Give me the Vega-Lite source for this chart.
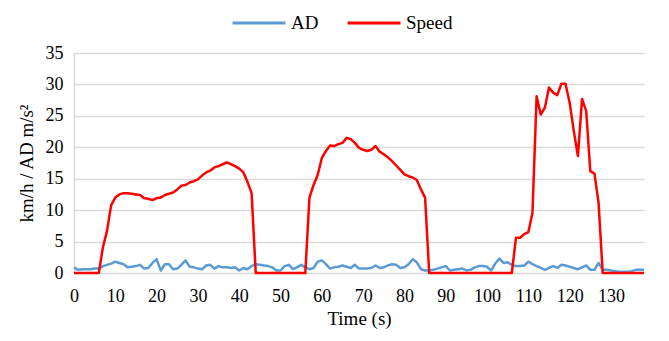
{
  "$schema": "https://vega.github.io/schema/vega-lite/v6.json",
  "width": 570,
  "height": 220,
  "autosize": "none",
  "padding": {"left": 74, "top": 53, "right": 25, "bottom": 68},
  "background": "white",
  "config": {
    "font": "Liberation Serif",
    "view": {"stroke": null}
  },
  "data": {
    "values": [
      {"t":0,"AD":0.9,"Speed":0},{"t":1,"AD":0.5,"Speed":0},{"t":2,"AD":0.6,"Speed":0},{"t":3,"AD":0.6,"Speed":0},{"t":4,"AD":0.6,"Speed":0},{"t":5,"AD":0.7,"Speed":0},{"t":6,"AD":0.7,"Speed":0},{"t":7,"AD":1.1,"Speed":4.1},{"t":8,"AD":1.3,"Speed":6.7},{"t":9,"AD":1.5,"Speed":10.8},
      {"t":10,"AD":1.8,"Speed":12.0},{"t":11,"AD":1.6,"Speed":12.5},{"t":12,"AD":1.4,"Speed":12.7},{"t":13,"AD":0.9,"Speed":12.7},{"t":14,"AD":1.0,"Speed":12.6},{"t":15,"AD":1.1,"Speed":12.5},{"t":16,"AD":1.3,"Speed":12.4},{"t":17,"AD":0.7,"Speed":11.9},{"t":18,"AD":0.8,"Speed":11.8},{"t":19,"AD":1.6,"Speed":11.6},
      {"t":20,"AD":2.2,"Speed":11.9},{"t":21,"AD":0.4,"Speed":12.0},{"t":22,"AD":1.4,"Speed":12.4},{"t":23,"AD":1.4,"Speed":12.6},{"t":24,"AD":0.6,"Speed":12.8},{"t":25,"AD":0.7,"Speed":13.3},{"t":26,"AD":1.3,"Speed":13.9},{"t":27,"AD":2.0,"Speed":14.0},{"t":28,"AD":1.0,"Speed":14.4},{"t":29,"AD":0.9,"Speed":14.6},
      {"t":30,"AD":0.7,"Speed":14.9},{"t":31,"AD":0.6,"Speed":15.5},{"t":32,"AD":1.2,"Speed":16.0},{"t":33,"AD":1.3,"Speed":16.3},{"t":34,"AD":0.7,"Speed":16.8},{"t":35,"AD":1.1,"Speed":17.0},{"t":36,"AD":0.9,"Speed":17.3},{"t":37,"AD":0.9,"Speed":17.6},{"t":38,"AD":0.8,"Speed":17.3},{"t":39,"AD":0.9,"Speed":17.0},
      {"t":40,"AD":0.4,"Speed":16.6},{"t":41,"AD":0.8,"Speed":16.0},{"t":42,"AD":0.6,"Speed":14.5},{"t":43,"AD":1.1,"Speed":12.7},{"t":44,"AD":1.4,"Speed":0},{"t":45,"AD":1.3,"Speed":0},{"t":46,"AD":1.2,"Speed":0},{"t":47,"AD":1.1,"Speed":0},{"t":48,"AD":0.9,"Speed":0},{"t":49,"AD":0.4,"Speed":0},
      {"t":50,"AD":0.4,"Speed":0},{"t":51,"AD":1.1,"Speed":0},{"t":52,"AD":1.3,"Speed":0},{"t":53,"AD":0.6,"Speed":0},{"t":54,"AD":0.9,"Speed":0},{"t":55,"AD":1.3,"Speed":0},{"t":56,"AD":0.9,"Speed":0},{"t":57,"AD":0.6,"Speed":12.0},{"t":58,"AD":0.8,"Speed":14.0},{"t":59,"AD":1.8,"Speed":15.6},
      {"t":60,"AD":2.0,"Speed":18.3},{"t":61,"AD":1.4,"Speed":19.4},{"t":62,"AD":0.7,"Speed":20.3},{"t":63,"AD":0.9,"Speed":20.2},{"t":64,"AD":1.0,"Speed":20.5},{"t":65,"AD":1.2,"Speed":20.7},{"t":66,"AD":1.0,"Speed":21.5},{"t":67,"AD":0.8,"Speed":21.3},{"t":68,"AD":1.3,"Speed":20.7},{"t":69,"AD":0.7,"Speed":19.9},
      {"t":70,"AD":0.7,"Speed":19.6},{"t":71,"AD":0.7,"Speed":19.4},{"t":72,"AD":0.8,"Speed":19.6},{"t":73,"AD":1.2,"Speed":20.2},{"t":74,"AD":0.8,"Speed":19.3},{"t":75,"AD":0.9,"Speed":18.9},{"t":76,"AD":1.2,"Speed":18.4},{"t":77,"AD":1.4,"Speed":17.8},{"t":78,"AD":1.3,"Speed":17.1},{"t":79,"AD":0.8,"Speed":16.4},
      {"t":80,"AD":0.9,"Speed":15.7},{"t":81,"AD":1.4,"Speed":15.4},{"t":82,"AD":2.2,"Speed":15.2},{"t":83,"AD":1.7,"Speed":14.8},{"t":84,"AD":0.6,"Speed":13.3},{"t":85,"AD":0.4,"Speed":12.0},{"t":86,"AD":0.4,"Speed":0},{"t":87,"AD":0.5,"Speed":0},{"t":88,"AD":0.7,"Speed":0},{"t":89,"AD":0.9,"Speed":0},
      {"t":90,"AD":1.1,"Speed":0},{"t":91,"AD":0.4,"Speed":0},{"t":92,"AD":0.5,"Speed":0},{"t":93,"AD":0.6,"Speed":0},{"t":94,"AD":0.7,"Speed":0},{"t":95,"AD":0.4,"Speed":0},{"t":96,"AD":0.5,"Speed":0},{"t":97,"AD":0.9,"Speed":0},{"t":98,"AD":1.1,"Speed":0},{"t":99,"AD":1.1,"Speed":0},
      {"t":100,"AD":1.0,"Speed":0},{"t":101,"AD":0.4,"Speed":0},{"t":102,"AD":1.5,"Speed":0},{"t":103,"AD":2.3,"Speed":0},{"t":104,"AD":1.6,"Speed":0},{"t":105,"AD":1.7,"Speed":0},{"t":106,"AD":1.3,"Speed":0},{"t":107,"AD":1.1,"Speed":5.6},{"t":108,"AD":1.1,"Speed":5.6},{"t":109,"AD":1.2,"Speed":6.2},
      {"t":110,"AD":1.8,"Speed":6.5},{"t":111,"AD":1.4,"Speed":9.6},{"t":112,"AD":1.1,"Speed":28.1},{"t":113,"AD":0.8,"Speed":25.2},{"t":114,"AD":0.5,"Speed":26.3},{"t":115,"AD":0.8,"Speed":29.5},{"t":116,"AD":1.1,"Speed":28.7},{"t":117,"AD":0.8,"Speed":28.3},{"t":118,"AD":1.3,"Speed":30.1},{"t":119,"AD":1.2,"Speed":30.1},
      {"t":120,"AD":1.0,"Speed":27.1},{"t":121,"AD":0.8,"Speed":22.6},{"t":122,"AD":0.6,"Speed":18.6},{"t":123,"AD":0.9,"Speed":27.7},{"t":124,"AD":1.2,"Speed":25.8},{"t":125,"AD":0.5,"Speed":16.2},{"t":126,"AD":0.5,"Speed":15.8},{"t":127,"AD":1.6,"Speed":11.2},{"t":128,"AD":0.5,"Speed":0},{"t":129,"AD":0.5,"Speed":0},
      {"t":130,"AD":0.4,"Speed":0},{"t":131,"AD":0.3,"Speed":0},{"t":132,"AD":0.2,"Speed":0},{"t":133,"AD":0.2,"Speed":0},{"t":134,"AD":0.2,"Speed":0},{"t":135,"AD":0.3,"Speed":0},{"t":136,"AD":0.5,"Speed":0},{"t":137,"AD":0.5,"Speed":0},{"t":138,"AD":0.5,"Speed":0}
    ]
  },
  "transform": [{"fold": ["AD", "Speed"], "as": ["series", "value"]}],
  "mark": {"type": "line", "strokeWidth": 2.5, "strokeJoin": "round"},
  "encoding": {
    "x": {
      "field": "t",
      "type": "quantitative",
      "scale": {"domain": [0, 138], "nice": false},
      "axis": {
        "title": "Time (s)",
        "values": [0,10,20,30,40,50,60,70,80,90,100,110,120,130],
        "grid": false,
        "ticks": false,
        "domain": false,
        "labelFont": "Liberation Serif",
        "labelFontSize": 18,
        "labelColor": "#000000",
        "labelPadding": 14,
        "labelFlush": false,
        "titleFont": "Liberation Serif",
        "titleFontSize": 19,
        "titleFontWeight": "normal",
        "titleColor": "#000000",
        "titlePadding": 4
      }
    },
    "y": {
      "field": "value",
      "type": "quantitative",
      "scale": {"domain": [0, 35], "nice": false},
      "axis": {
        "title": "km/h / AD m/s²",
        "values": [0,5,10,15,20,25,30,35],
        "grid": true,
        "gridColor": "#D9D9D9",
        "gridWidth": 1.5,
        "ticks": false,
        "domain": true,
        "domainColor": "#D9D9D9",
        "domainWidth": 1.5,
        "labelFont": "Liberation Serif",
        "labelFontSize": 18,
        "labelColor": "#000000",
        "labelPadding": 11,
        "titleFont": "Liberation Serif",
        "titleFontSize": 19,
        "titleFontWeight": "normal",
        "titleColor": "#000000",
        "titlePadding": 9
      }
    },
    "color": {
      "field": "series",
      "type": "nominal",
      "scale": {"domain": ["AD", "Speed"], "range": ["#5B9BD5", "#FF0000"]},
      "legend": {
        "title": null,
        "orient": "none",
        "direction": "horizontal",
        "legendX": 157,
        "legendY": -58,
        "symbolType": "stroke",
        "symbolSize": 2800,
        "symbolStrokeWidth": 3,
        "labelFont": "Liberation Serif",
        "labelFontSize": 19,
        "labelColor": "#000000",
        "labelOffset": 4,
        "columnPadding": 22
      }
    }
  }
}
